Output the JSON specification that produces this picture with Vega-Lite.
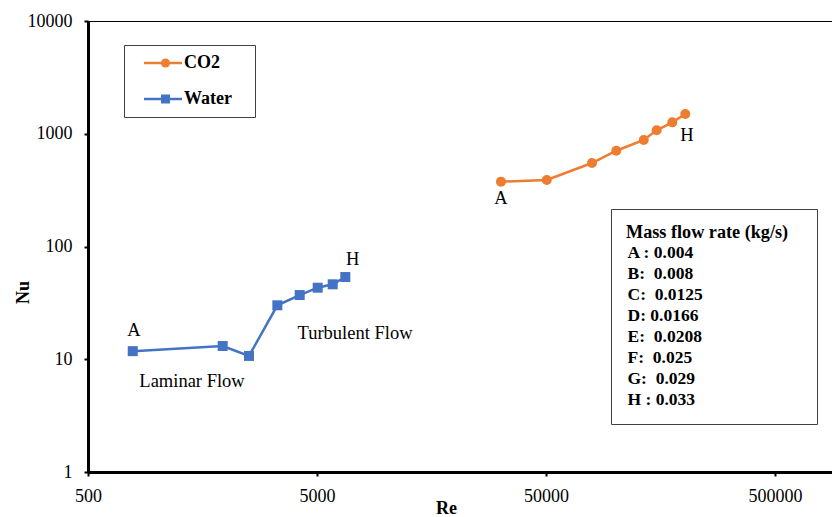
{
  "$schema": "https://vega.github.io/schema/vega-lite/v6.json",
  "width": 745,
  "height": 451,
  "autosize": {"type": "none"},
  "padding": {"left": 88, "top": 21, "right": 0, "bottom": 45},
  "background": "white",
  "config": {
    "view": {"stroke": "black", "strokeWidth": 1},
    "font": "Liberation Serif",
    "axis": {
      "grid": false,
      "domainColor": "black",
      "domainWidth": 3,
      "tickColor": "black",
      "tickWidth": 2,
      "tickSize": 4,
      "labelFont": "Liberation Serif",
      "labelFontSize": 18,
      "labelColor": "black",
      "labelFlush": false,
      "labelOverlap": false,
      "titleFont": "Liberation Serif",
      "titleFontSize": 18,
      "titleFontWeight": "bold",
      "titleColor": "black"
    }
  },
  "datasets": {
    "series": [
      {"Fluid": "CO2", "Point": "A", "Re": 31800, "Nu": 376},
      {"Fluid": "CO2", "Point": "B", "Re": 50400, "Nu": 389},
      {"Fluid": "CO2", "Point": "C", "Re": 79400, "Nu": 550},
      {"Fluid": "CO2", "Point": "D", "Re": 101400, "Nu": 707},
      {"Fluid": "CO2", "Point": "E", "Re": 133600, "Nu": 880},
      {"Fluid": "CO2", "Point": "F", "Re": 152100, "Nu": 1073},
      {"Fluid": "CO2", "Point": "G", "Re": 178100, "Nu": 1262},
      {"Fluid": "CO2", "Point": "H", "Re": 202900, "Nu": 1497},
      {"Fluid": "Water", "Point": "A", "Re": 784, "Nu": 11.8},
      {"Fluid": "Water", "Point": "B", "Re": 1937, "Nu": 13.1},
      {"Fluid": "Water", "Point": "C", "Re": 2524, "Nu": 10.7},
      {"Fluid": "Water", "Point": "D", "Re": 3356, "Nu": 30.1},
      {"Fluid": "Water", "Point": "E", "Re": 4202, "Nu": 37.1},
      {"Fluid": "Water", "Point": "F", "Re": 5035, "Nu": 43.1},
      {"Fluid": "Water", "Point": "G", "Re": 5856, "Nu": 46.2},
      {"Fluid": "Water", "Point": "H", "Re": 6648, "Nu": 53.6}
    ],
    "notes": [
      {"note": "A", "Re": 794, "Nu": 18.2},
      {"note": "H", "Re": 7160, "Nu": 77.5},
      {"note": "A", "Re": 31800, "Nu": 267.6},
      {"note": "H", "Re": 206400, "Nu": 975},
      {"note": "Laminar Flow", "Re": 1423, "Nu": 6.41},
      {"note": "Turbulent Flow", "Re": 7330, "Nu": 17.1}
    ],
    "rates": [
      {"rate": "A : 0.004"},
      {"rate": "B:\u00a0 0.008"},
      {"rate": "C:\u00a0 0.0125"},
      {"rate": "D: 0.0166"},
      {"rate": "E:\u00a0 0.0208"},
      {"rate": "F:\u00a0 0.025"},
      {"rate": "G:\u00a0 0.029"},
      {"rate": "H : 0.033"}
    ]
  },
  "encoding": {
    "x": {
      "field": "Re",
      "type": "quantitative",
      "scale": {"type": "log", "domain": [500, 896000], "nice": false},
      "axis": {
        "values": [500, 5000, 50000, 500000],
        "format": "d",
        "title": "Re",
        "titleX": 358,
        "titleY": 36,
        "titleBaseline": "middle",
        "labelPadding": 11
      }
    },
    "y": {
      "field": "Nu",
      "type": "quantitative",
      "scale": {"type": "log", "domain": [1, 10000], "nice": false},
      "axis": {
        "values": [1, 10, 100, 1000, 10000],
        "format": "d",
        "title": "Nu",
        "titleX": -65,
        "titleY": 271,
        "titleAngle": 270,
        "titleAlign": "center",
        "titleBaseline": "middle",
        "labelPadding": 12
      }
    }
  },
  "layer": [
    {
      "data": {"name": "series"},
      "mark": {"type": "line", "strokeWidth": 2.5},
      "encoding": {
        "stroke": {
          "field": "Fluid",
          "type": "nominal",
          "scale": {"domain": ["CO2", "Water"], "range": ["#ED7D31", "#4472C4"]},
          "legend": {
            "orient": "none",
            "legendX": 36,
            "legendY": 24,
            "title": "\u2800",
            "titleOrient": "right",
            "titleFontSize": 18,
            "titlePadding": 1,
            "symbolType": "M0.333,0H6.667",
            "symbolSize": 144,
            "symbolStrokeWidth": 2.5,
            "labelFont": "Liberation Serif",
            "labelFontSize": 18,
            "labelFontWeight": "bold",
            "labelColor": "black",
            "labelOffset": 33,
            "padding": 9,
            "rowPadding": 18,
            "strokeColor": "#404040"
          }
        }
      }
    },
    {
      "data": {"name": "series"},
      "mark": {"type": "point", "filled": true, "size": 100, "opacity": 1, "strokeWidth": 0},
      "encoding": {
        "fill": {
          "field": "Fluid",
          "type": "nominal",
          "scale": {"range": ["#ED7D31", "#4472C4"]},
          "legend": {
            "orient": "none",
            "legendX": 59.5,
            "legendY": 24,
            "title": null,
            "symbolSize": 81,
            "symbolStrokeWidth": 0,
            "labelFont": "Liberation Serif",
            "labelFontSize": 18,
            "labelFontWeight": "bold",
            "labelExpr": "''",
            "padding": 9,
            "rowPadding": 18
          }
        },
        "shape": {
          "field": "Fluid",
          "type": "nominal",
          "scale": {"range": ["circle", "square"]},
          "legend": {
            "orient": "none",
            "legendX": 59.5,
            "legendY": 24,
            "title": null,
            "symbolSize": 81,
            "symbolStrokeWidth": 0,
            "labelFont": "Liberation Serif",
            "labelFontSize": 18,
            "labelFontWeight": "bold",
            "labelExpr": "''",
            "padding": 9,
            "rowPadding": 18
          }
        }
      }
    },
    {
      "data": {"name": "notes"},
      "mark": {"type": "text", "font": "Liberation Serif", "fontSize": 18.5, "color": "black", "align": "center", "baseline": "middle"},
      "encoding": {
        "text": {"field": "note", "type": "nominal"}
      }
    },
    {
      "data": {"name": "rates"},
      "mark": {"type": "point", "opacity": 0},
      "encoding": {
        "x": {"value": 0},
        "y": {"value": 0},
        "color": {
          "field": "rate",
          "type": "nominal",
          "legend": {
            "orient": "none",
            "legendX": 523,
            "legendY": 188,
            "title": "Mass flow rate (kg/s)\u2800",
            "titleFont": "Liberation Serif",
            "titleFontSize": 18.2,
            "titleFontWeight": "bold",
            "titleColor": "black",
            "titlePadding": 2,
            "symbolSize": 0,
            "symbolOpacity": 0,
            "labelOffset": -16,
            "labelFont": "Liberation Serif",
            "labelFontSize": 17.5,
            "labelFontWeight": "bold",
            "labelColor": "black",
            "labelLimit": 0,
            "padding": 15,
            "rowPadding": 2,
            "strokeColor": "#404040",
            "fillColor": "white"
          }
        }
      }
    }
  ]
}
